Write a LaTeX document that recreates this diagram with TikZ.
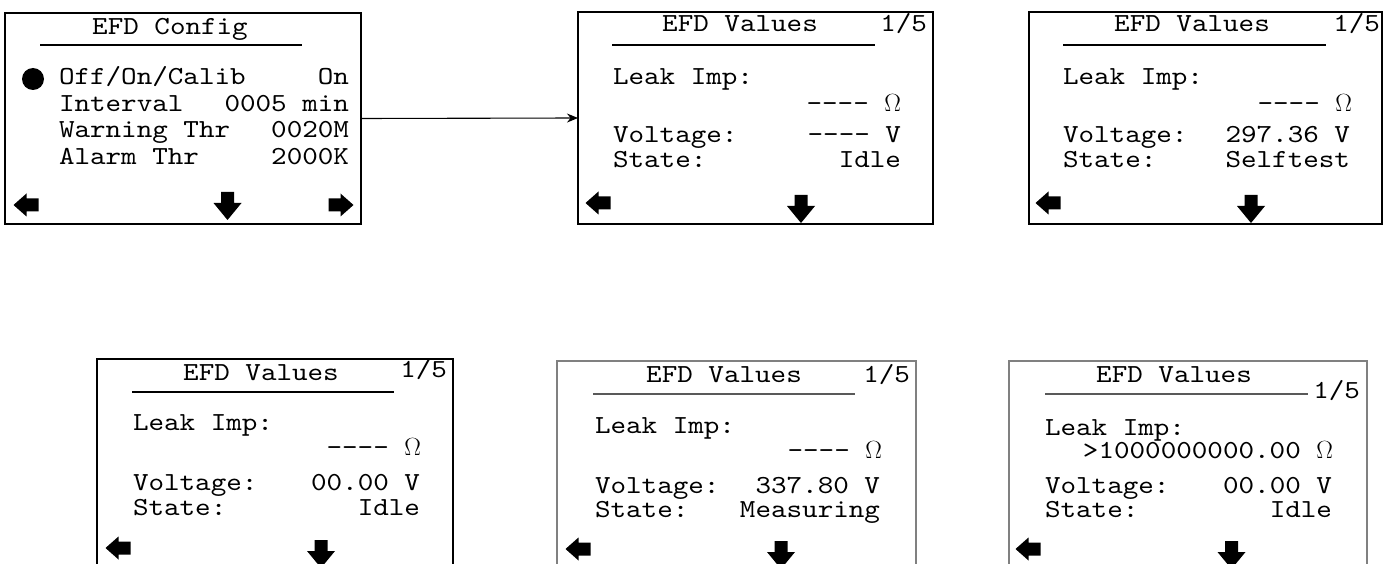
\documentclass[tikz,border=0pt]{standalone}
\usepackage{fontspec}
\newfontfamily\lcdfont{lmmono10-regular.otf}[FakeStretch=1.14]
\usetikzlibrary{arrows.meta}
\tikzset{>=Stealth}
\tikzset{screen/.style = {shape=rectangle,draw,line width=1.6pt,inner sep=0pt,outer sep=0pt}}
\tikzset{lcd/.style = {inner sep=0pt,outer sep=0pt,font=\lcdfont\fontsize{26}{30}\selectfont}}
\tikzset{uline/.style = {line width=1.6pt}}
\tikzset{link/.style = {->,line width=1.1pt,>={Stealth[length=11pt,width=9pt]}}}
\tikzset{lkey/.pic = {\fill (-13,0) -- (0,-11.5) -- (0,-6.5) -- (12,-6.5) -- (12,6.5) -- (0,6.5) -- (0,11.5) -- cycle;}}
\tikzset{rkey/.pic = {\fill (13,0) -- (0,-11.5) -- (0,-6.5) -- (-12,-6.5) -- (-12,6.5) -- (0,6.5) -- (0,11.5) -- cycle;}}
\tikzset{dkey/.pic = {\fill (-6.5,-14) -- (6.5,-14) -- (6.5,-3) -- (14,-3) -- (0,14) -- (-14,-3) -- (-6.5,-3) -- cycle;}}
\newcommand{\ohm}{\ensuremath{\Omega}}

\begin{document}
\begin{tikzpicture}[x=1pt,y=-1pt]
    \useasboundingbox (0,0) rectangle (1390,564);
    % config screen
    \node[screen,minimum width=356pt,minimum height=211pt] (cfg) at (183,118.5) {};
    \node[lcd,anchor=base] (cfgtitle) at (170,35) {EFD Config};
    \draw[uline] (40,45) -- (302,45);
    \fill (33,79) circle (11);
    \node[lcd,anchor=base west] (cfgl1) at (59,85) {Off/On/Calib};
    \node[lcd,anchor=base east] (cfgv1) at (349,85) {On};
    \node[lcd,anchor=base west] (cfgl2) at (59,112) {Interval};
    \node[lcd,anchor=base east] (cfgv2) at (349,112) {0005 min};
    \node[lcd,anchor=base west] (cfgl3) at (59,138) {Warning Thr};
    \node[lcd,anchor=base east] (cfgv3) at (349,138) {0020M};
    \node[lcd,anchor=base west] (cfgl4) at (59,165) {Alarm Thr};
    \node[lcd,anchor=base east] (cfgv4) at (349,165) {2000K};
    \pic at (26.5,205) {lkey};
    \pic at (227.5,206) {dkey};
    \pic at (340.5,205) {rkey};

    % values, idle
    \node[screen,minimum width=355pt,minimum height=212pt] (val1) at (755.5,118) {};
    \node[lcd,anchor=base] (val1title) at (740,32) {EFD Values};
    \node[lcd,anchor=base east] (val1page) at (927,32) {1/5};
    \draw[uline] (612,45) -- (875,45);
    \node[lcd,anchor=base west] (val1l1) at (613,85) {Leak Imp:};
    \node[lcd,anchor=base east] (val1v1) at (901,112) {---- \ohm};
    \node[lcd,anchor=base west] (val1l2) at (613,143) {Voltage:};
    \node[lcd,anchor=base east] (val1v2) at (901,143) {---- V};
    \node[lcd,anchor=base west] (val1l3) at (613,168) {State:};
    \node[lcd,anchor=base east] (val1v3) at (901,168) {Idle};
    \pic at (598.5,203) {lkey};
    \pic at (801,209) {dkey};
    \draw[link] (cfg.east) -- (val1.west);

    % values, selftest
    \node[screen,minimum width=353pt,minimum height=212pt] (val2) at (1205.5,118) {};
    \node[lcd,anchor=base] (val2title) at (1192,32) {EFD Values};
    \node[lcd,anchor=base east] (val2page) at (1380,32) {1/5};
    \draw[uline] (1063,45) -- (1326,45);
    \node[lcd,anchor=base west] (val2l1) at (1063,85) {Leak Imp:};
    \node[lcd,anchor=base east] (val2v1) at (1352,112) {---- \ohm};
    \node[lcd,anchor=base west] (val2l2) at (1063,143) {Voltage:};
    \node[lcd,anchor=base east] (val2v2) at (1350,143) {297.36 V};
    \node[lcd,anchor=base west] (val2l3) at (1063,168) {State:};
    \node[lcd,anchor=base east] (val2v3) at (1350,168) {Selftest};
    \pic at (1048.5,203) {lkey};
    \pic at (1251,209) {dkey};

    % values, idle 0 V
    \node[screen,minimum width=356pt,minimum height=240pt] (val3) at (275,479) {};
    \node[lcd,anchor=base] (val3title) at (261,380) {EFD Values};
    \node[lcd,anchor=base east] (val3page) at (447,377) {1/5};
    \draw[uline] (132,392) -- (394,392);
    \node[lcd,anchor=base west] (val3l1) at (133,430) {Leak Imp:};
    \node[lcd,anchor=base east] (val3v1) at (421,455) {---- \ohm};
    \node[lcd,anchor=base west] (val3l2) at (133,490) {Voltage:};
    \node[lcd,anchor=base east] (val3v2) at (420,490) {00.00 V};
    \node[lcd,anchor=base west] (val3l3) at (133,515) {State:};
    \node[lcd,anchor=base east] (val3v3) at (420,515) {Idle};
    \pic at (118.5,548) {lkey};
    \pic at (321,554) {dkey};

    % values, measuring
    \node[screen,draw=gray,minimum width=359pt,minimum height=240pt] (val4) at (736.5,481) {};
    \node[lcd,anchor=base] (val4title) at (724,382) {EFD Values};
    \node[lcd,anchor=base east] (val4page) at (910,382) {1/5};
    \draw[uline,gray!70!black] (593,394) -- (855,394);
    \node[lcd,anchor=base west] (val4l1) at (595,433) {Leak Imp:};
    \node[lcd,anchor=base east] (val4v1) at (882,458) {---- \ohm};
    \node[lcd,anchor=base west] (val4l2) at (595,493) {Voltage:};
    \node[lcd,anchor=base east] (val4v2) at (880,493) {337.80 V};
    \node[lcd,anchor=base west] (val4l3) at (595,517) {State:};
    \node[lcd,anchor=base east] (val4v3) at (880,517) {Measuring};
    \pic at (578.5,549) {lkey};
    \pic at (781,555) {dkey};

    % values, result
    \node[screen,draw=gray,minimum width=358pt,minimum height=240pt] (val5) at (1188,481) {};
    \node[lcd,anchor=base] (val5title) at (1174,382) {EFD Values};
    \node[lcd,anchor=base east] (val5page) at (1360,398) {1/5};
    \draw[uline,gray!70!black] (1045,394) -- (1308,394);
    \node[lcd,anchor=base west] (val5l1) at (1045,435) {Leak Imp:};
    \node[lcd,anchor=base east] (val5v1) at (1333,458) {>1000000000.00 \ohm};
    \node[lcd,anchor=base west] (val5l2) at (1045,493) {Voltage:};
    \node[lcd,anchor=base east] (val5v2) at (1332,493) {00.00 V};
    \node[lcd,anchor=base west] (val5l3) at (1045,517) {State:};
    \node[lcd,anchor=base east] (val5v3) at (1332,517) {Idle};
    \pic at (1028.5,549) {lkey};
    \pic at (1231.5,555) {dkey};
\end{tikzpicture}
\end{document}
